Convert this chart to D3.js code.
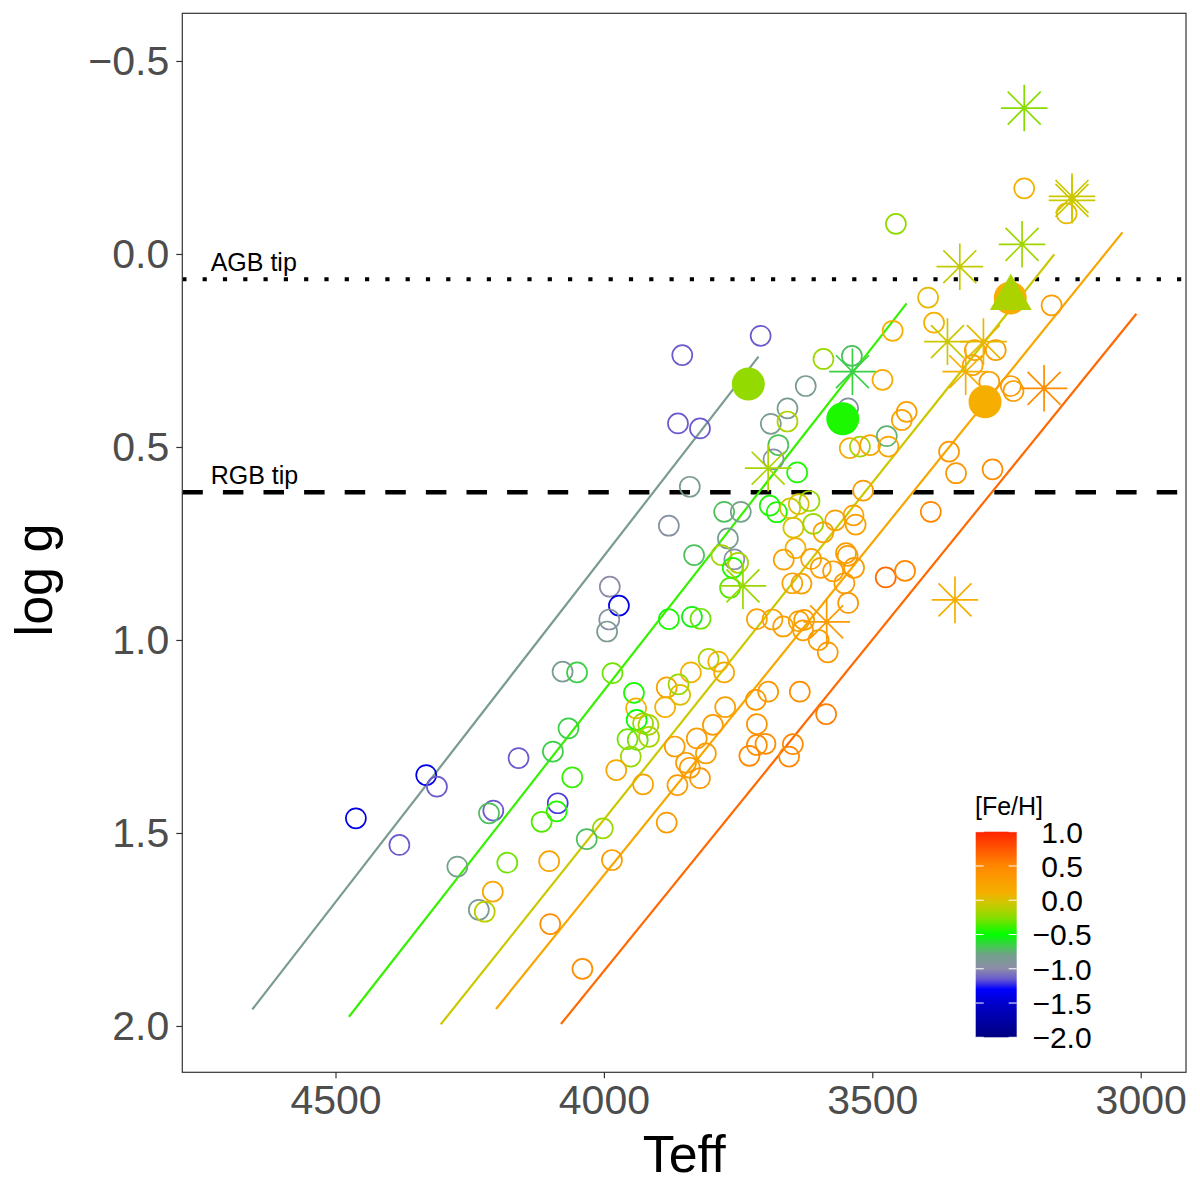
<!DOCTYPE html>
<html lang="en">
<head>
<meta charset="utf-8">
<title>log g vs Teff</title>
<script src="https://cdn.jsdelivr.net/npm/d3@7"></script>
<style>
  body { margin: 0; background: #fff; }
  text { font-family: "Liberation Sans", Arial, Helvetica, sans-serif; }
</style>
</head>
<body>
<script>
  var w = 1200, h = 1187;

  // axis ticks
  var tickTeff = [4500, 4000, 3500, 3000];
  var tickLogg = [-0.5, 0, 0.5, 1, 1.5, 2];
  var tickFeh = [1, 0.5, 0, -0.5, -1, -1.5, -2];

  // colour ramp for [Fe/H]
  var fehStops = [-2.0, -1.5, -1.3, -1.15, -1.0, -0.8, -0.5, -0.25, -0.05, 0.1, 0.5, 1.0];
  var fehColours = ["#000080", "#0000cc", "#0000ff", "#6a5acd", "#8c8ca8", "#74a08c",
                    "#00ff00", "#88dd00", "#ccc800", "#f5b000", "#ff8800", "#ff2200"];

  // tip lines (log g)
  var agbTip = 0.0655;
  var rgbTip = 0.617;

  // tracks: [Teff start, logg start, Teff end, logg end, Fe/H]
  var tracks = [
    [4655, 1.957, 3712, 0.266, -0.85],
    [4475, 1.976, 3436, 0.128, -0.40],
    [4304, 1.996, 3161, 0.001, -0.05],
    [4201, 1.956, 3034, -0.056, 0.20],
    [4080, 1.995, 3008, 0.155, 0.65]
  ];

  // open circles: [Teff, logg, Fe/H]
  var stars = [
    [3456,-0.078,-0.22],[3217,-0.170,0.1],[3138,-0.105,0.05],[3396,0.113,0.05],[3385,0.178,0.1],
    [3462,0.199,0.1],[3166,0.133,0.3],[3708,0.212,-1.15],[3309,0.249,0.25],[3270,0.249,0.3],
    [3313,0.288,0.25],[3282,0.331,0.3],[3242,0.342,0.3],[3237,0.355,0.3],[3854,0.262,-1.15],
    [3862,0.439,-1.15],[3821,0.452,-1.15],[3624,0.342,-0.85],[3658,0.400,-0.85],[3689,0.440,-0.85],
    [3658,0.434,-0.15],[3591,0.272,-0.2],[3538,0.264,-0.7],[3481,0.326,0.15],[3545,0.400,-0.95],
    [3675,0.495,-0.7],[3684,0.532,-0.95],[3640,0.566,-0.45],[3542,0.503,0.15],[3523,0.499,-0.15],
    [3504,0.495,0.2],[3473,0.472,-0.75],[3470,0.499,0.2],[3445,0.430,0.25],[3436,0.409,0.25],
    [3357,0.512,0.35],[3344,0.568,0.35],[3276,0.558,0.45],[3840,0.603,-0.85],[3517,0.613,0.3],
    [3391,0.668,0.5],[3776,0.668,-0.7],[3745,0.668,-0.8],[3691,0.652,-0.45],[3678,0.669,-0.45],
    [3653,0.659,-0.05],[3637,0.648,0.0],[3617,0.640,-0.2],[3879,0.704,-0.95],[3769,0.737,-0.85],
    [3832,0.780,-0.7],[3781,0.780,-0.15],[3757,0.791,-0.95],[3750,0.800,-0.15],[3760,0.813,-0.45],
    [3765,0.865,-0.35],[3647,0.709,0.0],[3610,0.699,-0.2],[3591,0.721,0.25],[3569,0.690,0.25],
    [3535,0.677,0.25],[3531,0.701,0.25],[3643,0.762,0.1],[3665,0.792,0.25],[3614,0.790,0.25],
    [3596,0.813,0.25],[3573,0.822,0.3],[3549,0.775,0.3],[3546,0.782,0.3],[3534,0.813,0.3],
    [3552,0.853,0.3],[3649,0.853,0.25],[3632,0.854,0.25],[3545,0.904,0.35],[3475,0.838,0.65],
    [3439,0.821,0.5],[3989,0.862,-1.0],[3972,0.911,-1.4],[3990,0.947,-0.95],[3994,0.978,-0.85],
    [3879,0.946,-0.45],[3836,0.940,-0.55],[3820,0.945,-0.3],[3715,0.946,0.25],[3686,0.947,0.25],
    [3666,0.965,0.25],[3637,0.951,0.25],[3627,0.948,0.3],[3629,0.975,0.3],[3600,1.000,0.3],
    [3583,1.032,0.35],[3805,1.049,-0.15],[3787,1.056,0.1],[3838,1.084,0.1],[3776,1.084,0.2],
    [3984,1.086,-0.3],[3944,1.137,-0.45],[3940,1.177,0.1],[3939,1.207,-0.5],[3927,1.216,-0.2],
    [3917,1.220,-0.15],[3956,1.257,-0.3],[3937,1.259,-0.3],[3916,1.251,-0.15],[3950,1.302,-0.2],
    [3977,1.337,0.2],[3927,1.374,0.25],[3883,1.123,0.25],[3861,1.115,-0.2],[3858,1.142,0.0],
    [3886,1.174,0.1],[3774,1.174,0.25],[3797,1.220,0.3],[3827,1.255,0.3],[3810,1.294,0.3],
    [3868,1.276,0.3],[3847,1.318,0.3],[3840,1.331,0.3],[3821,1.358,0.35],[3863,1.376,0.3],
    [3717,1.155,0.35],[3694,1.134,0.35],[3715,1.218,0.4],[3715,1.272,0.45],[3699,1.269,0.45],
    [3729,1.300,0.5],[3635,1.134,0.45],[3586,1.192,0.55],[3648,1.270,0.5],[3655,1.302,0.5],
    [3883,1.473,0.3],[3985,1.570,0.3],[4002,1.488,-0.2],[4077,1.082,-0.85],[4050,1.084,-0.65],
    [4066,1.229,-0.65],[4095,1.289,-0.65],[4059,1.356,-0.4],[4159,1.306,-1.15],[4331,1.350,-1.4],
    [4311,1.380,-1.15],[4462,1.462,-1.4],[4381,1.531,-1.15],[4206,1.442,-1.15],[4214,1.449,-0.7],
    [4086,1.423,-1.2],[4088,1.444,-0.45],[4116,1.471,-0.35],[4032,1.516,-0.7],[4273,1.587,-0.8],
    [4180,1.577,-0.3],[4102,1.573,0.25],[4207,1.652,0.2],[4233,1.699,-0.85],[4222,1.704,-0.1],
    [4100,1.736,0.45],[4040,1.852,0.45]
  ];

  // filled circles
  var filled = [[3731,0.337,-0.22],[3555,0.427,-0.45],[3290,0.383,0.12],[3243,0.114,0.12]];

  // filled triangle
  var triangles = [[3242,0.114,-0.15]];

  // asterisks
  var asterisks = [
    [3217,-0.378,-0.25],[3128,-0.149,-0.05],[3128,-0.139,-0.05],[3221,-0.025,-0.18],
    [3337,0.033,-0.08],[3360,0.227,-0.05],[3293,0.227,0.05],[3326,0.305,0.1],
    [3180,0.348,0.45],[3537,0.305,-0.65],[3694,0.555,-0.15],[3741,0.860,-0.2],
    [3585,0.953,0.3],[3346,0.896,0.12]
  ];

  var pLeft = 182.3, pRight = 1186, pTop = 13.3, pBottom = 1072.3;

  var x = d3.scaleLinear().domain([4785.4, 2915.6]).range([pLeft, pRight]);
  var y = d3.scaleLinear().domain([-0.6235, 2.12]).range([pTop, pBottom]);
  var col = d3.scaleLinear().domain(fehStops).range(fehColours).clamp(true);

  var fmt = function(d) { return d3.format(".1f")(d).replace("-", "\u2212"); };

  var svg = d3.select("body").append("svg")
              .attr("width", w)
              .attr("height", h);

  svg.append("rect").attr("width", w).attr("height", h).attr("fill", "white");

  svg.append("clipPath").attr("id", "panel")
     .append("rect")
     .attr("x", pLeft).attr("y", pTop)
     .attr("width", pRight - pLeft).attr("height", pBottom - pTop);

  var plot = svg.append("g").attr("clip-path", "url(#panel)");

  // tip lines
  plot.append("line")
      .attr("x1", pLeft).attr("x2", pRight)
      .attr("y1", y(agbTip)).attr("y2", y(agbTip))
      .attr("stroke", "black").attr("stroke-width", 4.2)
      .attr("stroke-dasharray", "4.2 16.1");

  plot.append("line")
      .attr("x1", pLeft).attr("x2", pRight)
      .attr("y1", y(rgbTip)).attr("y2", y(rgbTip))
      .attr("stroke", "black").attr("stroke-width", 4.5)
      .attr("stroke-dasharray", "20.5 20.1");

  plot.append("text").attr("x", 210.7).attr("y", y(agbTip) - 8.6)
      .attr("font-size", 25).text("AGB tip");
  plot.append("text").attr("x", 210.7).attr("y", y(rgbTip) - 8.6)
      .attr("font-size", 25).text("RGB tip");

  // tracks
  plot.selectAll("line.track")
      .data(tracks)
      .enter()
      .append("line")
      .attr("class", "track")
      .attr("x1", function(d) { return x(d[0]); })
      .attr("y1", function(d) { return y(d[1]); })
      .attr("x2", function(d) { return x(d[2]); })
      .attr("y2", function(d) { return y(d[3]); })
      .attr("stroke", function(d) { return col(d[4]); })
      .attr("stroke-width", 2.2);

  // open circles
  plot.selectAll("circle.open")
      .data(stars)
      .enter()
      .append("circle")
      .attr("class", "open")
      .attr("cx", function(d) { return x(d[0]); })
      .attr("cy", function(d) { return y(d[1]); })
      .attr("r", 10)
      .attr("fill", "none")
      .attr("stroke", function(d) { return col(d[2]); })
      .attr("stroke-width", 1.7);

  // asterisks (plus + cross)
  var arm = 23.3, diag = arm / Math.SQRT2;
  var starPath = "M0," + (-arm) + "V" + arm + "M" + (-arm) + ",0H" + arm +
                 "M" + (-diag) + "," + (-diag) + "L" + diag + "," + diag +
                 "M" + (-diag) + "," + diag + "L" + diag + "," + (-diag);
  plot.selectAll("path.ast")
      .data(asterisks)
      .enter()
      .append("path")
      .attr("class", "ast")
      .attr("d", starPath)
      .attr("transform", function(d) { return "translate(" + x(d[0]) + "," + y(d[1]) + ")"; })
      .attr("fill", "none")
      .attr("stroke", function(d) { return col(d[2]); })
      .attr("stroke-width", 1.7);

  // filled circles
  plot.selectAll("circle.filled")
      .data(filled)
      .enter()
      .append("circle")
      .attr("class", "filled")
      .attr("cx", function(d) { return x(d[0]); })
      .attr("cy", function(d) { return y(d[1]); })
      .attr("r", 16.5)
      .attr("fill", function(d) { return col(d[2]); });

  // triangle
  plot.selectAll("path.tri")
      .data(triangles)
      .enter()
      .append("path")
      .attr("class", "tri")
      .attr("d", d3.symbol().type(d3.symbolTriangle).size(760))
      .attr("transform", function(d) { return "translate(" + x(d[0]) + "," + y(d[1]) + ")"; })
      .attr("fill", function(d) { return col(d[2]); });

  // panel border
  svg.append("rect")
     .attr("x", pLeft).attr("y", pTop)
     .attr("width", pRight - pLeft).attr("height", pBottom - pTop)
     .attr("fill", "none").attr("stroke", "#333333").attr("stroke-width", 1.2);

  // axes
  var xAxis = svg.append("g")
                 .attr("transform", "translate(0," + pBottom + ")")
                 .call(d3.axisBottom(x).tickValues(tickTeff).tickSize(6).tickPadding(7)
                         .tickFormat(d3.format("d")));
  var yAxis = svg.append("g")
                 .attr("transform", "translate(" + pLeft + ",0)")
                 .call(d3.axisLeft(y).tickValues(tickLogg).tickSize(6).tickPadding(7)
                         .tickFormat(fmt));

  [xAxis, yAxis].forEach(function(a) {
    a.select(".domain").remove();
    a.selectAll(".tick line").attr("stroke", "#333333").attr("stroke-width", 1.2);
    a.selectAll(".tick text")
     .attr("fill", "#4d4d4d")
     .attr("font-size", 41)
     .attr("font-family", "Liberation Sans, Arial, sans-serif");
  });

  // axis titles
  svg.append("text")
     .attr("x", (pLeft + pRight) / 2).attr("y", 1172)
     .attr("text-anchor", "middle")
     .attr("font-size", 52)
     .text("Teff");

  svg.append("text")
     .attr("transform", "translate(52," + 580 + ") rotate(-90)")
     .attr("text-anchor", "middle")
     .attr("font-size", 52)
     .text("log g");

  // colour bar legend
  var barX = 975.7, barW = 41;
  var ly = d3.scaleLinear().domain([1, -2]).range([831.7, 1037.3]);

  var grad = svg.append("defs").append("linearGradient")
                .attr("id", "fehgrad")
                .attr("x1", 0).attr("y1", 0).attr("x2", 0).attr("y2", 1);
  d3.range(0, 61).forEach(function(i) {
    var v = 1 - i * 3 / 60;
    grad.append("stop")
        .attr("offset", (i / 60 * 100) + "%")
        .attr("stop-color", col(v));
  });

  svg.append("rect")
     .attr("x", barX).attr("y", ly(1))
     .attr("width", barW).attr("height", ly(-2) - ly(1))
     .attr("fill", "url(#fehgrad)");

  var lg = svg.append("g");
  lg.selectAll("line.tl")
    .data(tickFeh)
    .enter()
    .append("line")
    .attr("x1", barX).attr("x2", barX + 8)
    .attr("y1", function(d) { return ly(d); })
    .attr("y2", function(d) { return ly(d); })
    .attr("stroke", "white").attr("stroke-width", 1);
  lg.selectAll("line.tr")
    .data(tickFeh)
    .enter()
    .append("line")
    .attr("x1", barX + barW - 8).attr("x2", barX + barW)
    .attr("y1", function(d) { return ly(d); })
    .attr("y2", function(d) { return ly(d); })
    .attr("stroke", "white").attr("stroke-width", 1);

  lg.selectAll("text.fl")
    .data(tickFeh)
    .enter()
    .append("text")
    .attr("x", 1062)
    .attr("y", function(d) { return ly(d); })
    .attr("dy", "0.36em")
    .attr("text-anchor", "middle")
    .attr("font-size", 30)
    .text(fmt);

  svg.append("text")
     .attr("x", 975).attr("y", 815)
     .attr("font-size", 25)
     .text("[Fe/H]");
</script>
</body>
</html>
